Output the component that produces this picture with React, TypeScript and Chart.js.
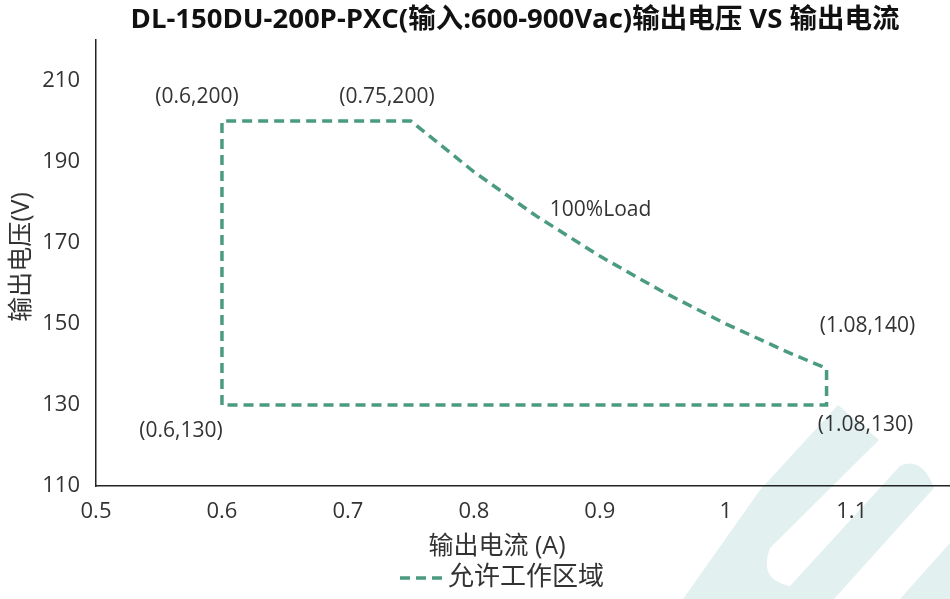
import React, { useEffect, useRef } from "react";
import { Chart, registerables } from "chart.js";

Chart.register(...registerables);

const TITLE = "DL-150DU-200P-PXC(输入:600-900Vac)输出电压 VS 输出电流";
const X_TITLE = "输出电流 (A)";
const Y_TITLE = "输出电压(V)";
const SERIES_NAME = "允许工作区域";

const X_TICKS = [0.5, 0.6, 0.7, 0.8, 0.9, 1, 1.1];
const Y_TICKS = [110, 130, 150, 170, 190, 210];

// Boundary of the allowed operating area (current A, voltage V)
const CURRENT = [0.6, 0.6, 0.75, 0.8, 0.85, 0.9, 0.95, 1.0, 1.05, 1.08, 1.08, 0.6];
const VOLTAGE = [130, 200, 200, 187.5, 176.5, 166.7, 157.9, 150, 142.9, 139, 130, 130];

// Annotation texts and the data points they belong to
const LABEL_TEXTS = ["(0.6,200)", "(0.75,200)", "100%Load", "(1.08,140)", "(1.08,130)", "(0.6,130)"];
const LABEL_X = [0.6, 0.75, 0.9, 1.08, 1.08, 0.6];
const LABEL_Y = [200, 200, 166.7, 139, 130, 130];

const FONT = "'Open Sans', 'Noto Sans CJK SC', sans-serif";
const LINE_COLOR = "#4b9c7f";
const TEXT_COLOR = "#333333";
const WATERMARK = "#e2f1f0";

// label placement (pixel offsets from anchor point): dx, dy, align
const LABEL_STYLE: [number, number, CanvasTextAlign][] = [
  [-25, -24, "center"],
  [-24, -24, "center"],
  [-50, -46, "left"],
  [41, -42, "center"],
  [39, 20, "center"],
  [-41, 26, "center"],
];

const drawPlugin = {
  id: "custom-draw",
  beforeDraw(chart: any) {
    const ctx = chart.ctx as CanvasRenderingContext2D;
    ctx.save();
    ctx.fillStyle = WATERMARK;
    ctx.beginPath();
    ctx.moveTo(683, 599);
    ctx.lineTo(760, 490);
    ctx.lineTo(838, 405);
    ctx.lineTo(879, 440);
    ctx.lineTo(770, 548);
    ctx.quadraticCurveTo(758, 580, 790, 586);
    ctx.lineTo(900, 466);
    ctx.quadraticCurveTo(922, 456, 934, 488);
    ctx.lineTo(834, 599);
    ctx.closePath();
    ctx.fill();
    ctx.beginPath();
    ctx.moveTo(900, 599);
    ctx.lineTo(950, 543);
    ctx.lineTo(950, 599);
    ctx.closePath();
    ctx.fill();
    ctx.restore();
  },
  afterDraw(chart: any) {
    const ctx = chart.ctx as CanvasRenderingContext2D;
    const xs = chart.scales.x;
    const ys = chart.scales.y;
    ctx.save();
    // title, fitted to the reference width
    ctx.fillStyle = "#111111";
    ctx.font = `bold 24px ${FONT}`;
    const w = ctx.measureText(TITLE).width;
    const size = Math.max(18, Math.min(28, (24 * 770) / w));
    ctx.font = `bold ${size.toFixed(1)}px ${FONT}`;
    ctx.textAlign = "center";
    ctx.textBaseline = "middle";
    ctx.fillText(TITLE, 515, 20);
    // axis titles
    ctx.fillStyle = TEXT_COLOR;
    ctx.font = `25px ${FONT}`;
    ctx.fillText(X_TITLE, 497, 547);
    ctx.save();
    ctx.translate(22, 257);
    ctx.rotate(-Math.PI / 2);
    ctx.fillText(Y_TITLE, 0, 0);
    ctx.restore();
    // legend
    ctx.strokeStyle = LINE_COLOR;
    ctx.lineWidth = 3.5;
    ctx.setLineDash([10, 6]);
    ctx.beginPath();
    ctx.moveTo(400, 578);
    ctx.lineTo(442, 578);
    ctx.stroke();
    ctx.setLineDash([]);
    ctx.font = `26px ${FONT}`;
    ctx.textAlign = "left";
    ctx.fillText(SERIES_NAME, 448, 578);
    // annotations
    ctx.font = `21px ${FONT}`;
    LABEL_TEXTS.forEach((t, i) => {
      const [dx, dy, al] = LABEL_STYLE[i];
      const px = xs.getPixelForValue(LABEL_X[i]) + dx;
      const py = ys.getPixelForValue(LABEL_Y[i]) + dy;
      ctx.textAlign = al;
      ctx.fillText(t, px, py);
    });
    ctx.restore();
  },
};

export default function App() {
  const ref = useRef<HTMLCanvasElement>(null);
  useEffect(() => {
    if (!ref.current) return;
    const points = CURRENT.map((x, i) => ({ x, y: VOLTAGE[i] }));
    const chart = new Chart(ref.current, {
      type: "scatter",
      data: {
        datasets: [
          {
            label: SERIES_NAME,
            data: points,
            showLine: true,
            borderColor: LINE_COLOR,
            backgroundColor: LINE_COLOR,
            borderWidth: 3.5,
            borderDash: [10, 6],
            pointRadius: 0,
            fill: false,
            tension: 0,
          },
        ],
      },
      options: {
        animation: false,
        responsive: false,
        devicePixelRatio: 1,
        layout: { padding: { top: 40, left: 0, right: 0, bottom: 0 } },
        plugins: { legend: { display: false }, title: { display: false }, tooltip: { enabled: false } },
        scales: {
          x: {
            type: "linear",
            min: 0.5,
            max: 1.178,
            afterBuildTicks: (s: any) => {
              s.ticks = X_TICKS.map((v) => ({ value: v }));
            },
            afterFit: (s: any) => {
              s.height = 113;
            },
            grid: { display: false, drawTicks: false },
            border: { display: true, color: "#222222", width: 1.5 },
            ticks: {
              color: TEXT_COLOR,
              font: { family: FONT, size: 22 },
              padding: 13,
              maxRotation: 0,
              autoSkip: false,
              callback: (v: any) => String(Math.round(Number(v) * 10) / 10),
            },
          },
          y: {
            type: "linear",
            min: 110,
            max: 220,
            afterBuildTicks: (s: any) => {
              s.ticks = Y_TICKS.map((v) => ({ value: v }));
            },
            afterFit: (s: any) => {
              s.width = 96;
            },
            grid: { display: false, drawTicks: false },
            border: { display: true, color: "#222222", width: 1.5 },
            ticks: {
              color: TEXT_COLOR,
              font: { family: FONT, size: 22 },
              padding: 16,
              autoSkip: false,
            },
          },
        },
      },
      plugins: [drawPlugin],
    });
    return () => chart.destroy();
  }, []);
  return (
    <div style={{ position: "absolute", left: 0, top: 0, width: 950, height: 599, background: "#fff" }}>
      <canvas ref={ref} width={950} height={599} style={{ display: "block" }} />
    </div>
  );
}
